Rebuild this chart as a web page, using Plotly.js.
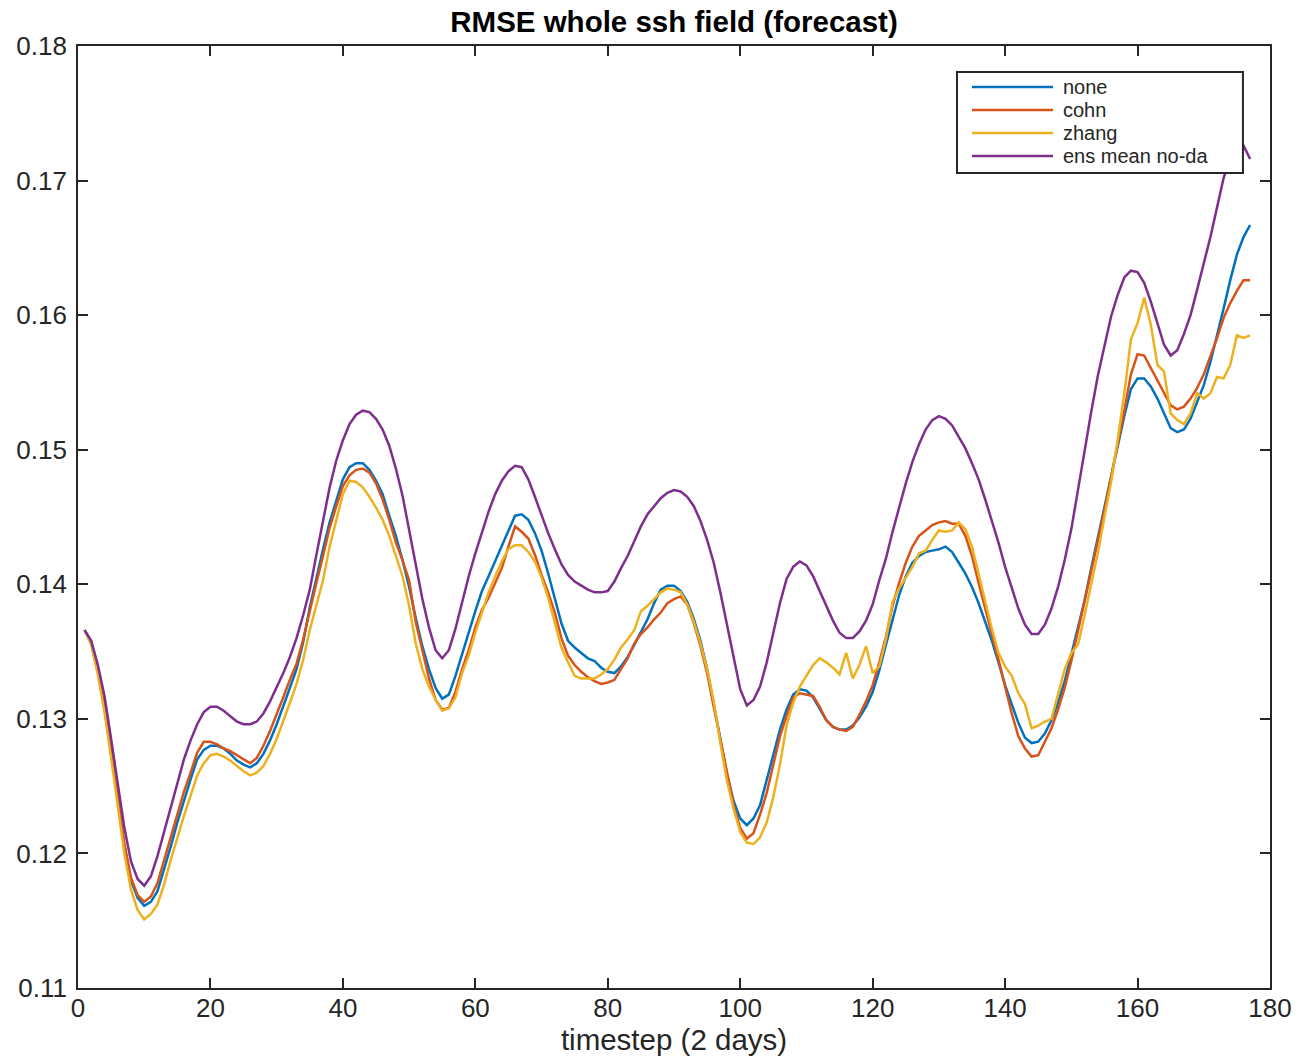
<!DOCTYPE html>
<html>
<head>
<meta charset="utf-8">
<script src="https://cdn.plot.ly/plotly-3.0.1.min.js"></script>
<style>html,body{margin:0;padding:0;background:#fff;}#chart{width:1297px;height:1058px;}</style>
</head>
<body>
<div id="chart"></div>
<script>
// ---- data ----
const seriesNames = ["none", "cohn", "zhang", "ens mean no-da"];
const seriesColors = ["#0072BD", "#D95319", "#EDB120", "#7E2F8E"];

const timestep = Array.from({length: 177}, (_, i) => i + 1);

const none = [
0.1366,0.1356,0.1335,0.1308,0.1275,0.1240,0.1206,0.1180,0.1167,0.1161,
0.1164,0.1172,0.1188,0.1205,0.1223,0.1240,0.1255,0.1270,0.1277,0.1280,
0.1280,0.1278,0.1274,0.1269,0.1266,0.1264,0.1267,0.1274,0.1284,0.1296,
0.1309,0.1323,0.1337,0.1357,0.1383,0.1405,0.1426,0.1446,0.1463,0.1478,
0.1487,0.1490,0.1490,0.1485,0.1477,0.1467,0.1451,0.1436,0.1418,0.1398,
0.1375,0.1354,0.1337,0.1323,0.1315,0.1318,0.1332,0.1349,0.1364,0.1380,
0.1395,0.1406,0.1417,0.1428,0.1439,0.1451,0.1452,0.1448,0.1438,0.1425,
0.1408,0.1390,0.1371,0.1358,0.1353,0.1349,0.1345,0.1343,0.1338,0.1335,
0.1334,0.1339,0.1346,0.1355,0.1365,0.1374,0.1386,0.1396,0.1399,0.1399,
0.1395,0.1387,0.1374,0.1358,0.1337,0.1311,0.1282,0.1259,0.1239,0.1226,
0.1221,0.1226,0.1236,0.1254,0.1272,0.1292,0.1307,0.1318,0.1322,0.1321,
0.1316,0.1308,0.1299,0.1294,0.1292,0.1292,0.1295,0.1301,0.1309,0.1320,
0.1336,0.1355,0.1374,0.1392,0.1406,0.1416,0.1421,0.1424,0.1425,0.1426,
0.1428,0.1424,0.1416,0.1408,0.1398,0.1386,0.1372,0.1358,0.1342,0.1325,
0.1311,0.1297,0.1286,0.1282,0.1283,0.1289,0.1299,0.1312,0.1328,0.1348,
0.1368,0.1388,0.1412,0.1435,0.1458,0.1480,0.1503,0.1525,0.1545,0.1553,
0.1553,0.1547,0.1538,0.1527,0.1516,0.1513,0.1515,0.1523,0.1535,0.1548,
0.1565,0.1584,0.1605,0.1626,0.1645,0.1658,0.1667];

const cohn = [
0.1366,0.1356,0.1335,0.1308,0.1275,0.1240,0.1207,0.1182,0.1169,0.1164,
0.1168,0.1178,0.1195,0.1212,0.1230,0.1246,0.1260,0.1275,0.1283,0.1283,
0.1281,0.1278,0.1276,0.1273,0.1270,0.1267,0.1271,0.1280,0.1291,0.1303,
0.1316,0.1329,0.1341,0.1359,0.1381,0.1401,0.1421,0.1442,0.1458,0.1473,
0.1481,0.1485,0.1486,0.1483,0.1475,0.1463,0.1448,0.1431,0.1418,0.1403,
0.1372,0.1350,0.1330,0.1314,0.1307,0.1308,0.1320,0.1337,0.1351,0.1368,
0.1381,0.1390,0.1401,0.1412,0.1428,0.1443,0.1439,0.1434,0.1422,0.1407,
0.1394,0.1379,0.1360,0.1347,0.1340,0.1335,0.1331,0.1328,0.1326,0.1327,
0.1329,0.1337,0.1345,0.1356,0.1363,0.1368,0.1374,0.1379,0.1386,0.1389,
0.1391,0.1385,0.1371,0.1354,0.1334,0.1309,0.1285,0.1259,0.1236,0.1219,
0.1211,0.1215,0.1229,0.1245,0.1267,0.1287,0.1302,0.1316,0.1319,0.1318,
0.1317,0.1309,0.1299,0.1294,0.1292,0.1291,0.1294,0.1303,0.1313,0.1325,
0.1342,0.1361,0.1384,0.1401,0.1416,0.1428,0.1436,0.1440,0.1444,0.1446,
0.1447,0.1445,0.1445,0.1436,0.1421,0.1401,0.1381,0.1363,0.1344,0.1323,
0.1304,0.1287,0.1278,0.1272,0.1273,0.1283,0.1293,0.1307,0.1323,0.1343,
0.1365,0.1386,0.1408,0.1432,0.1455,0.1480,0.1503,0.1529,0.1556,0.1571,
0.1570,0.1561,0.1552,0.1542,0.1533,0.1530,0.1532,0.1538,0.1546,0.1556,
0.1569,0.1583,0.1598,0.1609,0.1618,0.1626,0.1626];

const zhang = [
0.1366,0.1355,0.1333,0.1305,0.1271,0.1235,0.1200,0.1173,0.1158,0.1151,
0.1155,0.1162,0.1177,0.1195,0.1212,0.1228,0.1243,0.1258,0.1267,0.1273,
0.1274,0.1272,0.1269,0.1265,0.1261,0.1258,0.1260,0.1265,0.1274,0.1285,
0.1298,0.1312,0.1326,0.1344,0.1366,0.1384,0.1403,0.1428,0.1448,0.1467,
0.1477,0.1476,0.1472,0.1465,0.1457,0.1448,0.1436,0.1421,0.1406,0.1384,
0.1356,0.1337,0.1324,0.1314,0.1306,0.1308,0.1316,0.1334,0.1347,0.1364,
0.1379,0.1394,0.1406,0.1417,0.1426,0.1429,0.1429,0.1424,0.1417,0.1405,
0.1390,0.1372,0.1353,0.1342,0.1332,0.1330,0.1330,0.1330,0.1333,0.1337,
0.1344,0.1353,0.1359,0.1366,0.1380,0.1384,0.1389,0.1394,0.1397,0.1396,
0.1394,0.1385,0.1372,0.1356,0.1337,0.1313,0.1282,0.1254,0.1233,0.1216,
0.1208,0.1207,0.1212,0.1223,0.1242,0.1266,0.1295,0.1312,0.1324,0.1332,
0.1340,0.1345,0.1342,0.1338,0.1333,0.1349,0.1330,0.1340,0.1354,0.1334,
0.1339,0.1359,0.1387,0.1397,0.1405,0.1413,0.1423,0.1425,0.1433,0.1440,
0.1439,0.1440,0.1446,0.1441,0.1428,0.1407,0.1387,0.1367,0.1349,0.1339,
0.1332,0.1319,0.1311,0.1293,0.1295,0.1298,0.1300,0.1318,0.1337,0.1349,
0.1355,0.1377,0.1400,0.1423,0.1450,0.1476,0.1507,0.1542,0.1582,0.1594,
0.1613,0.1593,0.1563,0.1558,0.1527,0.1522,0.1519,0.1527,0.1542,0.1538,
0.1542,0.1554,0.1553,0.1563,0.1585,0.1583,0.1585];

const ensMeanNoDa = [
0.1366,0.1358,0.1340,0.1317,0.1285,0.1251,0.1219,0.1194,0.1181,0.1176,
0.1183,0.1198,0.1216,0.1235,0.1253,0.1270,0.1284,0.1296,0.1305,0.1309,
0.1309,0.1306,0.1302,0.1298,0.1296,0.1296,0.1298,0.1304,0.1313,0.1323,
0.1334,0.1346,0.1360,0.1377,0.1396,0.1422,0.1448,0.1472,0.1492,0.1507,
0.1519,0.1526,0.1529,0.1528,0.1523,0.1515,0.1503,0.1486,0.1466,0.1440,
0.1413,0.1389,0.1368,0.1351,0.1345,0.1351,0.1367,0.1387,0.1406,0.1423,
0.1439,0.1454,0.1467,0.1477,0.1484,0.1488,0.1487,0.1478,0.1465,0.1451,
0.1438,0.1426,0.1415,0.1407,0.1402,0.1399,0.1396,0.1394,0.1394,0.1395,
0.1402,0.1412,0.1421,0.1432,0.1443,0.1452,0.1458,0.1464,0.1468,0.1470,
0.1469,0.1465,0.1458,0.1447,0.1433,0.1416,0.1394,0.1370,0.1344,0.1322,
0.1310,0.1314,0.1324,0.1342,0.1364,0.1386,0.1404,0.1413,0.1417,0.1414,
0.1406,0.1395,0.1384,0.1373,0.1364,0.1360,0.1360,0.1365,0.1373,0.1385,
0.1403,0.1419,0.1439,0.1458,0.1475,0.1491,0.1504,0.1515,0.1522,0.1525,
0.1523,0.1518,0.1510,0.1501,0.1490,0.1478,0.1463,0.1447,0.1431,0.1413,
0.1397,0.1382,0.1370,0.1363,0.1363,0.1370,0.1382,0.1398,0.1418,0.1441,
0.1470,0.1500,0.1528,0.1555,0.1578,0.1599,0.1615,0.1628,0.1633,0.1632,
0.1624,0.1610,0.1594,0.1578,0.1570,0.1574,0.1586,0.1600,0.1619,0.1638,
0.1658,0.1680,0.1702,0.1716,0.1726,0.1726,0.1716];

const xTickVals = [0, 20, 40, 60, 80, 100, 120, 140, 160, 180];
const yTickVals = [0.11, 0.12, 0.13, 0.14, 0.15, 0.16, 0.17, 0.18];
const titleText = "RMSE whole ssh field (forecast)";
const xTitleText = "timestep (2 days)";

// ---- chart ----
const allSeries = [none, cohn, zhang, ensMeanNoDa];
const FONT = "Liberation Sans, Arial, Helvetica, sans-serif";
const INK = "#262626";

const traces = allSeries.map((ys, i) => ({
  type: "scatter",
  mode: "lines",
  x: timestep,
  y: ys,
  name: seriesNames[i],
  line: {color: seriesColors[i], width: 2.5},
  showlegend: false,
  hoverinfo: "x+y+name"
}));

// legend drawn as a MATLAB-style box (layout only, no data)
const lg = {x0: 0.7374, x1: 0.9773, y0: 0.8652, y1: 0.9724,
            lineX0: 0.750, lineX1: 0.818, textX: 0.8255,
            rows: [0.9565, 0.9321, 0.9076, 0.8832]};
const shapes = [{
  type: "rect", xref: "paper", yref: "paper",
  x0: lg.x0, x1: lg.x1, y0: lg.y0, y1: lg.y1,
  fillcolor: "#ffffff", line: {color: INK, width: 2}, layer: "above"
}];
const annotations = [];
seriesNames.forEach((nm, i) => {
  shapes.push({
    type: "line", xref: "paper", yref: "paper",
    x0: lg.lineX0, x1: lg.lineX1, y0: lg.rows[i], y1: lg.rows[i],
    line: {color: seriesColors[i], width: 2.5}, layer: "above"
  });
  annotations.push({
    xref: "paper", yref: "paper", x: lg.textX, y: lg.rows[i],
    xanchor: "left", yanchor: "middle", showarrow: false, borderpad: 0,
    text: nm, font: {family: FONT, size: 20, color: INK}
  });
});

const axisCommon = {
  showline: true, linecolor: INK, linewidth: 1.8, mirror: "allticks",
  ticks: "inside", ticklen: 10, tickwidth: 1.8, tickcolor: INK,
  showgrid: false, zeroline: false,
  tickfont: {family: FONT, size: 26, color: INK}
};

const layout = {
  width: 1297, height: 1058,
  margin: {l: 78, r: 27, t: 46, b: 70},
  paper_bgcolor: "#ffffff", plot_bgcolor: "#ffffff",
  font: {family: FONT, color: INK},
  title: {
    text: "<b>" + titleText + "</b>",
    font: {family: FONT, size: 29.5, color: "#000000"},
    x: 0.5, xref: "paper", xanchor: "center",
    y: 1 - 22 / 1058, yref: "container", yanchor: "middle"
  },
  xaxis: Object.assign({}, axisCommon, {
    range: [0, 180], tickmode: "array", tickvals: xTickVals,
    ticktext: xTickVals.map(String), ticklabelstandoff: -4,
    title: {text: xTitleText, font: {family: FONT, size: 29.5, color: INK}, standoff: 0}
  }),
  yaxis: Object.assign({}, axisCommon, {
    range: [0.11, 0.18], tickmode: "array", tickvals: yTickVals,
    ticktext: yTickVals.map(v => v.toFixed(2)), ticklabelstandoff: 4
  }),
  shapes: shapes,
  annotations: annotations,
  showlegend: false
};

Plotly.newPlot("chart", traces, layout, {displayModeBar: false, staticPlot: false});
</script>
</body>
</html>
